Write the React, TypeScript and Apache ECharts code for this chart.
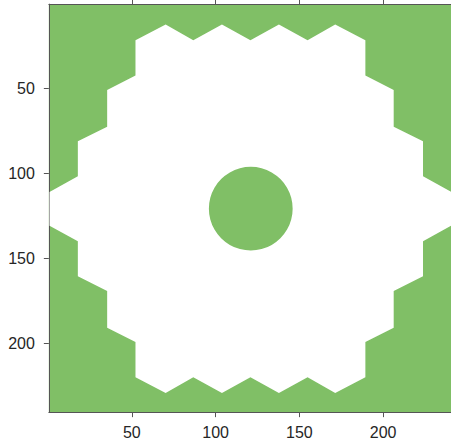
import React, { useEffect, useRef } from "react";
import * as echarts from "echarts";

// Outline of the white gear-shaped region (image coordinates, y downward)
const gearX = [
  52.2, 70.2, 86.7, 103.8, 120.8, 137.8, 154.9, 171.4, 189.4,
  189.4, 206.3, 206.3, 223.8, 223.8, 240.7, 240.7, 223.8, 223.8, 206.3, 206.3, 189.4,
  189.4, 171.4, 154.9, 137.8, 120.8, 103.8, 86.7, 70.2, 52.2,
  52.2, 35.3, 35.3, 17.8, 17.8, 0.9, 0.9, 17.8, 17.8, 35.3, 35.3, 52.2,
];
const gearY = [
  21.8, 12.5, 21.8, 12.5, 21.8, 12.5, 21.8, 12.5, 21.8,
  42.5, 51.0, 72.6, 81.2, 101.8, 111.0, 130.8, 140.0, 160.6, 169.2, 190.8, 199.3,
  220.0, 229.3, 220.0, 229.3, 220.0, 229.3, 220.0, 229.3, 220.0,
  199.3, 190.8, 169.2, 160.6, 140.0, 130.8, 111.0, 101.8, 81.2, 72.6, 51.0, 42.5,
];
const holeCenter = [121, 120.8];
const holeRadius = 25;
const xTicks = [50, 100, 150, 200];
const yTicks = [50, 100, 150, 200];
const xRange = [0.5, 240.5];
const yRange = [0.5, 240.5];

const GREEN = "#80BF66";
const AXIS = "#555555";
const TEXT = "#262626";
const FONT = "'Liberation Sans', Arial, Helvetica, sans-serif";

export default function App() {
  const ref = useRef<HTMLDivElement>(null);
  useEffect(() => {
    if (!ref.current) return;
    const chart = echarts.init(ref.current, null, { renderer: "svg" });
    const axisCommon = {
      type: "value" as const,
      splitLine: { show: false },
      axisLine: { show: true, onZero: false, lineStyle: { color: AXIS, width: 1 } },
    };
    const tick = (values: number[]) => ({
      show: true,
      inside: false,
      length: 5,
      customValues: values,
      lineStyle: { color: AXIS, width: 1 },
    });
    chart.setOption({
      animation: false,
      backgroundColor: "#ffffff",
      grid: {
        left: 48.85,
        top: 4.15,
        width: 408,
        height: 408,
        show: true,
        backgroundColor: GREEN,
        borderWidth: 0,
      },
      xAxis: [
        {
          ...axisCommon,
          position: "bottom",
          min: xRange[0],
          max: xRange[1],
          axisTick: tick(xTicks),
          axisLabel: { customValues: xTicks, color: TEXT, fontSize: 16, fontFamily: FONT, margin: 12 },
        },
        {
          ...axisCommon,
          position: "top",
          min: xRange[0],
          max: xRange[1],
          axisTick: tick(xTicks),
          axisLabel: { show: false },
        },
      ],
      yAxis: [
        {
          ...axisCommon,
          position: "left",
          inverse: true,
          min: yRange[0],
          max: yRange[1],
          axisTick: tick(yTicks),
          axisLabel: { customValues: yTicks, color: TEXT, fontSize: 16, fontFamily: FONT, margin: 14 },
        },
        {
          ...axisCommon,
          position: "right",
          inverse: true,
          min: yRange[0],
          max: yRange[1],
          axisTick: tick(yTicks),
          axisLabel: { show: false },
        },
      ],
      series: [
        {
          type: "custom",
          clip: true,
          xAxisIndex: 0,
          yAxisIndex: 0,
          data: [[holeCenter[0], holeCenter[1]]],
          renderItem: (_params: any, api: any) => {
            const pts = gearX.map((x, i) => api.coord([x, gearY[i]]));
            const c = api.coord(holeCenter);
            const r = api.size([holeRadius, holeRadius])[0];
            return {
              type: "group",
              children: [
                { type: "polygon", shape: { points: pts }, style: { fill: "#ffffff" } },
                { type: "circle", shape: { cx: c[0], cy: c[1], r }, style: { fill: GREEN } },
              ],
            };
          },
        },
      ],
    });
    return () => chart.dispose();
  }, []);
  return (
    <div ref={ref} style={{ position: "absolute", left: 0, top: 0, width: 451, height: 445 }} />
  );
}
